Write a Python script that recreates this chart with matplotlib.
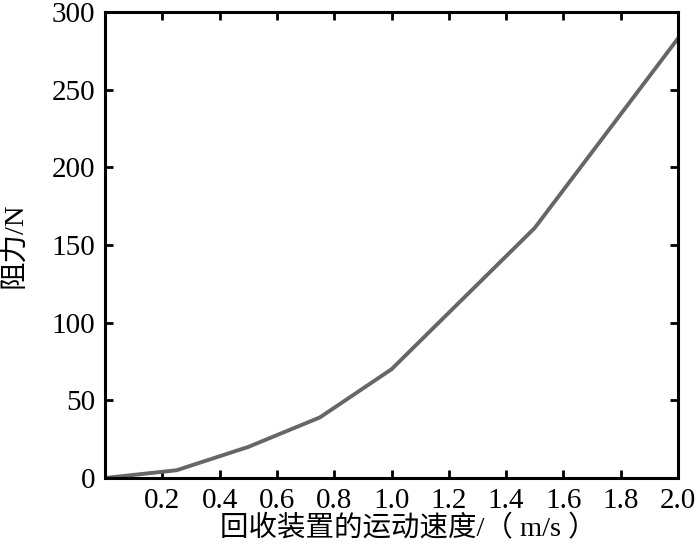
import matplotlib
matplotlib.use("Agg")
import matplotlib.pyplot as plt

speed = [0.0, 0.25, 0.5, 0.75, 1.0, 1.5, 2.0]
drag = [0.0, 5.0, 20.0, 39.0, 70.0, 161.0, 283.0]
x_ticks = [0.2, 0.4, 0.6, 0.8, 1.0, 1.2, 1.4, 1.6, 1.8, 2.0]
y_ticks = [0, 50, 100, 150, 200, 250, 300]

plt.rcParams["font.family"] = ["Liberation Serif", "Noto Sans CJK SC"]

fig = plt.figure(figsize=(7, 5.49), dpi=100)
ax = fig.add_axes([105 / 700, 1 - 478 / 549, 573 / 700, 466 / 549])

ax.plot(speed, drag, color="#666666", linewidth=2.8)

ax.set_xlim(0, 2.0)
ax.set_ylim(0, 300)
ax.set_xticks(x_ticks)
ax.set_xticklabels([f"{v:.1f}" for v in x_ticks])
ax.set_yticks(y_ticks)

ax.tick_params(direction="in", top=True, right=True, length=6, width=2,
               labelsize=21)
ax.tick_params(axis="x", pad=7)
ax.tick_params(axis="y", pad=7)
for s in ax.spines.values():
    s.set_linewidth(2.2)

ax.set_xlabel("回收装置的运动速度/（ m/s ）", fontsize=20.5,
              family=["Liberation Serif", "Noto Sans CJK SC"])
ax.xaxis.set_label_coords(0.53, -0.079, transform=ax.transAxes)
ax.xaxis.label.set_va("top")
ax.set_ylabel("阻力/N", fontsize=20.5,
              family=["Liberation Serif", "Noto Sans CJK SC"])
ax.yaxis.set_label_coords(-0.135, 0.5, transform=ax.transAxes)

fig.savefig("out.png", dpi=100)
